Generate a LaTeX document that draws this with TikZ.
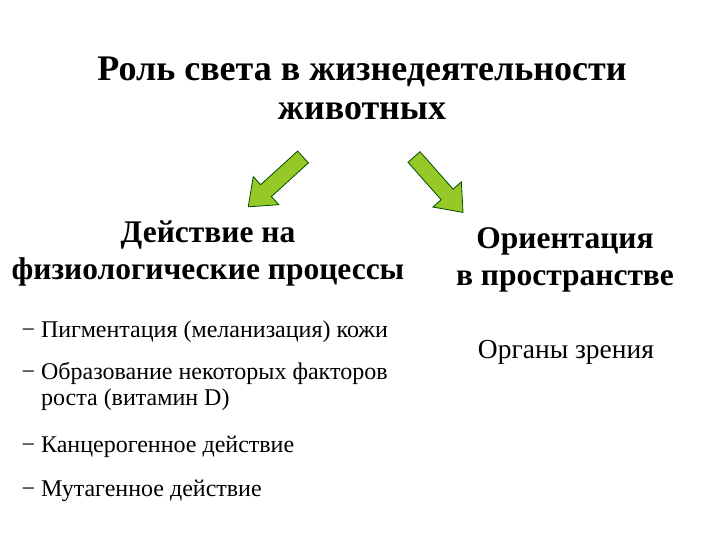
\documentclass[tikz,border=0pt]{standalone}
\usepackage{fontspec}
\setmainfont{Liberation Serif}
\begin{document}
\begin{tikzpicture}[x=1pt,y=-1pt,
  ttl/.style={font=\bfseries\fontsize{36}{39}\selectfont,align=center},
  hd/.style={font=\bfseries\fontsize{31.5}{37}\selectfont,align=center},
  itm/.style={font=\fontsize{24}{26}\selectfont,align=left,anchor=west},
  blk/.style={fill=YG,draw=black!70!green,line width=0.8pt}]
\definecolor{YG}{RGB}{150,200,40}
\useasboundingbox (0,0) rectangle (720,540);
\node[ttl] (t) at (362,88) {Роль света в жизнедеятельности\\животных};
\node[hd] (l) at (208,254) {Действие на\\физиологические процессы};
\node[hd] (r) at (565,260) {Ориентация\\в пространстве};
\node[itm] (i1) at (18,332) {− Пигментация (меланизация) кожи};
\node[itm] (i2) at (18,386) {− Образование некоторых факторов\\\phantom{− }роста (витамин D)};
\node[itm] (i3) at (18,447) {− Канцерогенное действие};
\node[itm] (i4) at (18,491) {− Мутагенное действие};
\node[font=\fontsize{27.5}{30}\selectfont] (o) at (566,352) {Органы зрения};
\foreach \p/\a in {{(303,157)}/222.3,{(414,157)}/-48.5}{
  \draw[blk,shift={\p},rotate=\a] (0,-8)--(50,-8)--(50,-19)--(74,0)--(50,19)--(50,8)--(0,8)--cycle;}
\end{tikzpicture}
\end{document}
